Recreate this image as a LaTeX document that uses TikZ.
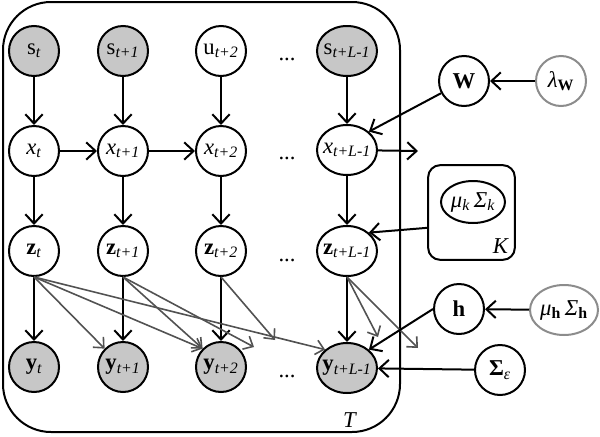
\documentclass[tikz,border=0pt]{standalone}
\usepackage{fontspec}
\setmainfont{Liberation Serif}
\usetikzlibrary{arrows.meta,shapes.geometric}
\newcommand{\lowi}[1]{\textsubscript{\itshape #1}}

\begin{document}
\begin{tikzpicture}[x=0.75pt,y=0.75pt,yscale=-1,xscale=1,
  >={Straight Barb[length=7pt,width=13pt]},
  every node/.style={font=\fontsize{17}{20}\selectfont},
  var/.style={circle,draw,line width=1.5pt,minimum size=37.5pt,inner sep=0pt},
  varl/.style={ellipse,draw,line width=1.5pt,minimum width=45pt,minimum height=37.5pt,inner sep=0pt,inner xsep=-3.5pt},
  obs/.style={fill=black!22},
  hyper/.style={draw=black!45},
  edge/.style={->,line width=1.5pt},
  cross/.style={->,line width=1.2pt,draw=black!68,>={Straight Barb[length=6pt,width=11pt]}}]
\useasboundingbox (0,0) rectangle (600,436);

% plate T
\draw[line width=1.5pt,rounded corners=36pt] (3,2) rectangle (400,432);
\node (tlab) at (350,420) {\textit{T}};

% row s
\node[var,obs] (s1) at (34,51) {s\lowi{t}};
\node[var,obs] (s2) at (123,51) {s\lowi{t+1}};
\node[var] (s3) at (221,51) {u\lowi{t+2}};
\node (sd) at (287,59) {...};
\node[varl,obs] (s5) at (347,51) {s\lowi{t+L-1}};
% row x
\node[var] (x1) at (34,151) {\textit{x}\lowi{t}};
\node[var] (x2) at (123,151) {\textit{x}\lowi{t+1}};
\node[var] (x3) at (221,151) {\textit{x}\lowi{t+2}};
\node (xd) at (287,158) {...};
\node[varl] (x5) at (347,150) {\textit{x}\lowi{t+L-1}};
% row z
\node[var] (z1) at (34,251) {\textbf{z}\lowi{t}};
\node[var] (z2) at (123,251) {\textbf{z}\lowi{t+1}};
\node[var] (z3) at (221,251) {\textbf{z}\lowi{t+2}};
\node (zd) at (287,260) {...};
\node[varl] (z5) at (347,251) {\textbf{z}\lowi{t+L-1}};
% row y
\node[var,obs] (y1) at (34,367) {\textbf{y}\lowi{t}};
\node[var,obs] (y2) at (123,367) {\textbf{y}\lowi{t+1}};
\node[var,obs] (y3) at (221,367) {\textbf{y}\lowi{t+2}};
\node (yd) at (287,376) {...};
\node[varl,obs] (y5) at (347,368) {\textbf{y}\lowi{t+L-1}};

% parameters
\node[var] (w) at (464,81) {\textbf{W}};
\node[var,hyper] (lw) at (561,81) {\textit{λ}\textsubscript{\textbf{W}}};
\node[draw,line width=1.5pt,rounded corners=9pt,minimum width=65pt,minimum height=71pt] (kplate) at (471.5,212.5) {};
\node[varl,minimum width=48pt,minimum height=31.5pt] (mk) at (473,202) {\textit{μ}\lowi{k}\,\textit{Σ}\lowi{k}};
\node (klab) at (501,246) {\textit{K}};
\node[var] (h) at (459,309) {\textbf{h}};
\node[varl,hyper,minimum width=51pt] (mh) at (564,310) {\textit{μ}\textsubscript{\textbf{h}}\,\textit{Σ}\textsubscript{\textbf{h}}};
\node[var] (se) at (500,370) {\textbf{Σ}\lowi{ε}};

% free ends
\coordinate (xo) at (418,151);
\coordinate (e2) at (254,347);
\coordinate (e3) at (275,340);
\coordinate (e5a) at (378,337);
\coordinate (e5b) at (418,348);

% vertical edges
\draw[edge] (s1) -- (x1);
\draw[edge] (s2) -- (x2);
\draw[edge] (s3) -- (x3);
\draw[edge] (s5) -- (x5);
\draw[edge] (x1) -- (z1);
\draw[edge] (x2) -- (z2);
\draw[edge] (x3) -- (z3);
\draw[edge] (x5) -- (z5);
\draw[edge] (z1) -- (y1);
\draw[edge] (z2) -- (y2);
\draw[edge] (z3) -- (y3);
\draw[edge] (z5) -- (y5);
% chain
\draw[edge] (x1) -- (x2);
\draw[edge] (x2) -- (x3);
\draw[edge] (x5) -- (xo);
% lagged z to y
\draw[cross] (z1.south) -- (y2.north west);
\draw[cross] (z1.south) -- (y3.north west);
\draw[cross] (z1.south) -- (y5.north west);
\draw[cross] (z2.south) -- (y3.north west);
\draw[cross] (z2.south) -- (e2);
\draw[cross] (z3.south) -- (e3);
\draw[cross] (z5.south) -- (e5a);
\draw[cross] (z5.south) -- (e5b);
% parameters
\draw[edge] (lw) -- (w);
\draw[edge] (w) -- (x5.north east);
\draw[edge] ([yshift=11.5pt]kplate.west) -- (z5.north east);
\draw[edge] (mh) -- (h);
\draw[edge] (h.west) -- (y5.north east);
\draw[edge] (se) -- (y5);
\end{tikzpicture}
\end{document}
